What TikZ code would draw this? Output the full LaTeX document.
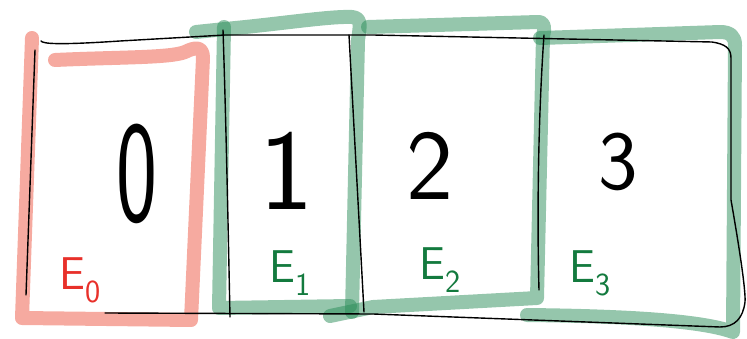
\documentclass[tikz,border=0pt]{standalone}

\definecolor{salmon}{HTML}{ED5541}
\definecolor{leaf}{HTML}{2B8D59}
\definecolor{redink}{HTML}{E8302A}
\definecolor{greenink}{HTML}{137A3E}

\tikzset{
    marker/.style={line width=14pt, line cap=round, line join=round, draw opacity=0.5},
    pen/.style={line width=1.4pt, line cap=round, line join=round},
    digit/.style={font=\sffamily\fontsize{#1}{#1}\selectfont, inner sep=0pt},
    elabel/.style={font=\sffamily\fontsize{46}{46}\selectfont, inner sep=0pt}
}

\begin{document}
\begin{tikzpicture}[x=1pt,y=-1pt]
    \useasboundingbox (0,0) rectangle (747,339);

    % zvýraznění E_0
    \draw[marker, salmon] (55,60) .. controls (120,57) and (170,58) .. (185,52)
        .. controls (195,47) and (203,46) .. (203,58) -- (191,320) -- (22,318) -- (32,38);

    % zvýraznění E_1 .. E_3
    \draw[marker, leaf] (224,27) -- (219,308) -- (350,306);
    \draw[marker, leaf] (196,32) -- (225,29) .. controls (280,24) and (330,16) .. (352,17)
        .. controls (362,18) and (360,26) .. (358,40) -- (352,312);
    \draw[marker, leaf] (368,27) -- (538,22) .. controls (545,22) and (545,28) .. (543,36)
        -- (537,298) -- (373,307) -- (330,316);
    \draw[marker, leaf] (527,315) .. controls (620,316) and (700,320) .. (733,332)
        -- (735,45) .. controls (735,36) and (730,32) .. (720,32) -- (540,38);

    % obdélník
    \draw[pen] (41,41) .. controls (43,44) and (60,45) .. (120,41) -- (225,35) -- (373,35)
        -- (712,42) .. controls (725,44) and (731,48) .. (731,58) -- (731,200)
        .. controls (738,240) and (746,290) .. (745,302)
        .. controls (743,318) and (735,327) .. (720,327) -- (373,314) -- (105,313);
    \draw[pen] (35,50) -- (26,295);
    \draw[pen] (223,30) .. controls (226,120) and (228,220) .. (230,317);
    \draw[pen] (349,35) -- (364,312);
    \draw[pen] (544,35) .. controls (538,120) and (537,220) .. (539,290);

    % čísla buněk
    \node[digit=145, xscale=0.6] (n0) at (137,174) {0};
    \node[digit=115] (n1) at (287,171) {1};
    \node[digit=100] (n2) at (430,166) {2};
    \node[digit=84]  (n3) at (618,162) {3};

    % popisky
    \node[elabel, text=redink]   (e0) at (80,280) {E\textsubscript{0}};
    \node[elabel, text=greenink] (e1) at (290,273) {E\textsubscript{1}};
    \node[elabel, text=greenink] (e2) at (440,270) {E\textsubscript{2}};
    \node[elabel, text=greenink] (e3) at (590,273) {E\textsubscript{3}};
\end{tikzpicture}
\end{document}
